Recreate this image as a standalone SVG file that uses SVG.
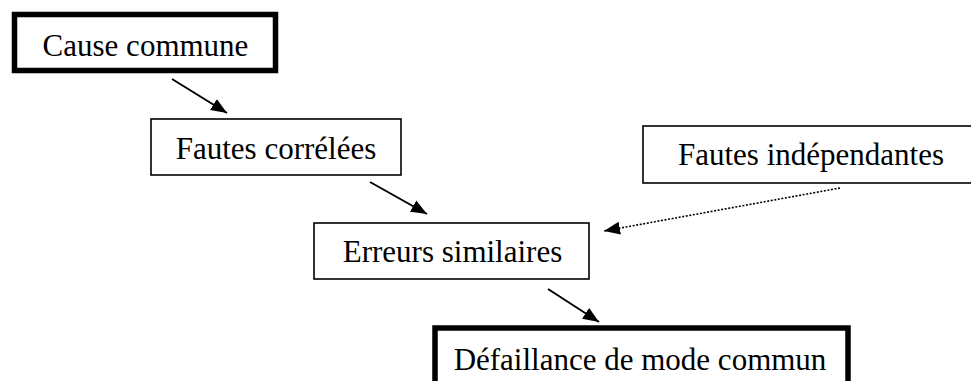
<svg xmlns="http://www.w3.org/2000/svg" width="971" height="381" viewBox="0 0 971 381">
  <style>
    .box { fill: #fff; stroke: #000; stroke-width: 1.6; }
    .thick { stroke-width: 5.5; }
    .label { font-family: "Liberation Serif", "Times New Roman", serif; font-size: 31px; fill: #000; text-anchor: middle; }
    .link { stroke: #000; stroke-width: 2; fill: none; marker-end: url(#head); }
    .dotted { stroke-width: 1.6; stroke-dasharray: 2 1.6; }
  </style>
  <defs>
    <marker id="head" markerUnits="userSpaceOnUse" markerWidth="18" markerHeight="14" refX="16" refY="7" orient="auto">
      <path d="M0,0.5 L16,7 L0,13.5 Z" fill="#000"/>
    </marker>
  </defs>
  <rect width="971" height="381" fill="#fff"/>

  <g id="cause-commune">
    <rect class="box thick" x="14.5" y="14.5" width="261" height="56"/>
    <text class="label" x="145.5" y="56">Cause commune</text>
  </g>

  <g id="fautes-correlees">
    <rect class="box" x="151" y="119" width="250" height="56"/>
    <text class="label" x="276" y="159">Fautes corrélées</text>
  </g>

  <g id="erreurs-similaires">
    <rect class="box" x="314" y="223" width="275" height="56"/>
    <text class="label" x="452.5" y="262">Erreurs similaires</text>
  </g>

  <g id="fautes-independantes">
    <rect class="box" x="643" y="126" width="340" height="57"/>
    <text class="label" x="811" y="165">Fautes indépendantes</text>
  </g>

  <g id="defaillance-mode-commun">
    <rect class="box thick" x="435" y="328" width="413" height="70"/>
    <text class="label" x="640" y="370">Défaillance de mode commun</text>
  </g>

  <g id="connectors">
    <line class="link" x1="172" y1="79" x2="227" y2="113"/>
    <line class="link" x1="370" y1="182" x2="427" y2="214"/>
    <line class="link" x1="548" y1="289" x2="599" y2="322"/>
    <line class="link dotted" x1="840" y1="188" x2="604" y2="231"/>
  </g>
</svg>
